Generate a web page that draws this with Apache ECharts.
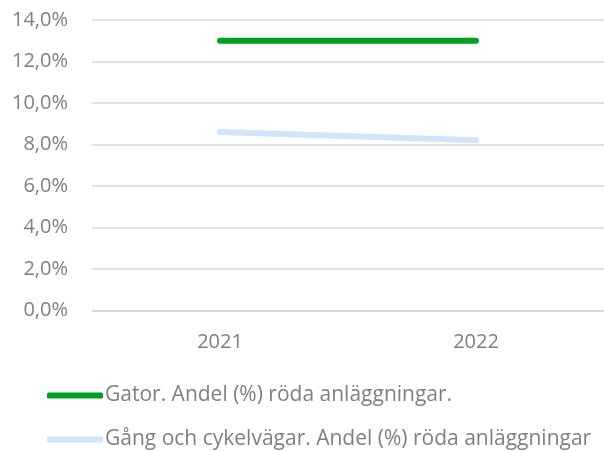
<!DOCTYPE html>
<html>
<head>
<meta charset="utf-8">
<script src="https://cdn.jsdelivr.net/npm/echarts@6/dist/echarts.min.js"></script>
<style>html,body{margin:0;padding:0;background:#fff}#c{width:604px;height:451px}</style>
</head>
<body>
<div id="c"></div>
<script>
var categories = ['2021', '2022'];
var gatorName = 'Gator. Andel (%) röda anläggningar.';
var gatorValues = [13.0, 13.0];
var gangName = 'Gång och cykelvägar. Andel (%) röda anläggningar';
var gangValues = [8.6, 8.2];
var yTicks = { min: 0, max: 14, interval: 2 };

var font = '"Open Sans", sans-serif';
var chart = echarts.init(document.getElementById('c'), null, { renderer: 'canvas' });
chart.setOption({
  animation: false,
  backgroundColor: '#ffffff',
  grid: { left: 92, top: 20, width: 520, height: 290.3, containLabel: false },
  xAxis: {
    type: 'category',
    data: categories,
    boundaryGap: true,
    axisLine: { show: true, lineStyle: { color: '#d9d9d9', width: 1.5 } },
    axisTick: { show: false },
    axisLabel: { color: '#7f7f7f', fontFamily: font, fontSize: 20, margin: 22 }
  },
  yAxis: {
    type: 'value',
    min: yTicks.min, max: yTicks.max, interval: yTicks.interval,
    axisLine: { show: false },
    axisTick: { show: false },
    splitLine: { lineStyle: { color: '#d9d9d9', width: 1.5 } },
    axisLabel: {
      color: '#7f7f7f', fontFamily: font, fontSize: 20, margin: 24,
      formatter: function (v) { return v.toFixed(1).replace('.', ',') + '%'; }
    }
  },
  legend: {
    orient: 'vertical',
    left: 47, top: 385,
    padding: 0,
    icon: 'roundRect',
    itemWidth: 56, itemHeight: 6,
    itemGap: 23,
    textStyle: { color: '#7f7f7f', fontFamily: font, fontSize: 21, lineHeight: 21, padding: [0, 0, 0, -3] },
    data: [gatorName, gangName]
  },
  series: [
    {
      name: gatorName, type: 'line', data: gatorValues,
      symbol: 'none', color: '#00a023',
      lineStyle: { width: 6, color: '#00a023', cap: 'round' }
    },
    {
      name: gangName, type: 'line', data: gangValues,
      symbol: 'none', color: '#d0e4fa',
      lineStyle: { width: 6, color: '#d0e4fa', cap: 'round' }
    }
  ]
});
</script>
</body>
</html>
